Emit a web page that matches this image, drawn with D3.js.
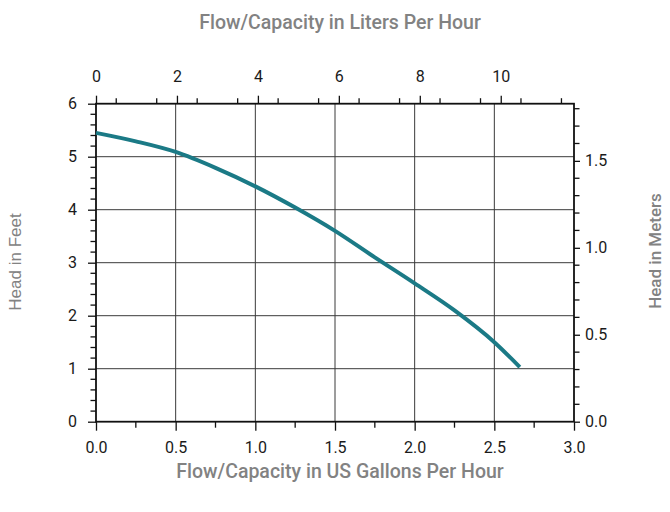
<!DOCTYPE html>
<html>
<head>
<meta charset="utf-8">
<script src="https://cdn.jsdelivr.net/npm/d3@7/dist/d3.min.js"></script>
<style>
  html, body { margin: 0; padding: 0; background: #fff; }
  svg { display: block; }
  .title { font-family: Roboto, "Noto Sans", sans-serif; font-weight: 500; fill: #828282; }
</style>
</head>
<body>
<svg id="chart" width="670" height="512"></svg>
<script>
// Pump performance curve: flow (US gal/h) against head (ft)
const flowGallons = [0, 0.25, 0.5, 0.75, 1.0, 1.25, 1.5, 1.75, 2.0, 2.25, 2.5, 2.66];
const headFeet    = [5.45, 5.29, 5.09, 4.79, 4.44, 4.04, 3.6, 3.1, 2.61, 2.1, 1.5, 1.03];

const galTicks   = [0, 0.5, 1.0, 1.5, 2.0, 2.5, 3.0];
const literTicks = [0, 2, 4, 6, 8, 10];
const feetTicks  = [0, 1, 2, 3, 4, 5, 6];
const meterTicks = [0.0, 0.5, 1.0, 1.5];

const svg = d3.select("#chart");
const plotL = 96, plotR = 574, plotT = 103.7, plotB = 421.7;

const x = d3.scaleLinear().domain([0, 3]).range([plotL, plotR]);
const xTop = d3.scaleLinear().domain([0, 11.81]).range([plotL, plotR]);
const y = d3.scaleLinear().domain([0, 6]).range([plotB, plotT]);
const yRight = d3.scaleLinear().domain([0, 6 * 0.3048]).range([plotB, plotT]);

// grid lines
const grid = svg.append("g").attr("stroke", "#3a3a3a").attr("stroke-width", 1);
grid.selectAll("line.v").data(galTicks.slice(1, -1)).join("line")
  .attr("x1", d => x(d)).attr("x2", d => x(d)).attr("y1", plotT).attr("y2", plotB);
grid.selectAll("line.h").data(feetTicks.slice(1, -1)).join("line")
  .attr("x1", plotL).attr("x2", plotR).attr("y1", d => y(d)).attr("y2", d => y(d));

function styleAxis(g) {
  g.select(".domain").remove();
  g.attr("font-family", "Roboto, 'Noto Sans', sans-serif").attr("font-size", 16);
  g.selectAll(".tick line").attr("stroke", "#111").attr("stroke-width", 1.3);
  g.selectAll(".tick text").attr("fill", "#1a1a1a");
}

// minor ticks
const minor = svg.append("g").attr("stroke", "#111").attr("stroke-width", 1.3);
minor.selectAll("line.b").data(d3.range(0.25, 3, 0.5)).join("line")
  .attr("x1", d => x(d)).attr("x2", d => x(d)).attr("y1", plotB).attr("y2", plotB + 6);
minor.selectAll("line.t").data(d3.range(0.5, 11.6, 1)).join("line")
  .attr("x1", d => xTop(d)).attr("x2", d => xTop(d)).attr("y1", plotT).attr("y2", plotT - 5.5);
minor.selectAll("line.l").data(d3.range(0, 6, 0.2).filter(d => Math.abs(d - Math.round(d)) > 0.01)).join("line")
  .attr("x1", plotL).attr("x2", plotL - 5.5).attr("y1", d => y(d)).attr("y2", d => y(d));
minor.selectAll("line.r").data(d3.range(0.1, 1.83, 0.1).filter(d => Math.abs(d * 2 - Math.round(d * 2)) > 0.01)).join("line")
  .attr("x1", plotR).attr("x2", plotR + 5.5).attr("y1", d => yRight(d)).attr("y2", d => yRight(d));

// axes
svg.append("g").attr("transform", `translate(0,${plotB})`)
  .call(d3.axisBottom(x).tickValues(galTicks).tickFormat(d3.format(".1f")).tickSize(9).tickPadding(11))
  .call(styleAxis);
svg.append("g").attr("transform", `translate(0,${plotT})`)
  .call(d3.axisTop(xTop).tickValues(literTicks).tickFormat(d3.format("d")).tickSize(8).tickPadding(14))
  .call(styleAxis);
svg.append("g").attr("transform", `translate(${plotL},0)`)
  .call(d3.axisLeft(y).tickValues(feetTicks).tickFormat(d3.format("d")).tickSize(8).tickPadding(11))
  .call(styleAxis);
svg.append("g").attr("transform", `translate(${plotR},0)`)
  .call(d3.axisRight(yRight).tickValues(meterTicks).tickFormat(d3.format(".1f")).tickSize(6).tickPadding(5))
  .call(styleAxis);

// frame
svg.append("rect").attr("x", plotL).attr("y", plotT).attr("width", plotR - plotL).attr("height", plotB - plotT)
  .attr("fill", "none").attr("stroke", "#111").attr("stroke-width", 1.8);

// performance curve
const pts = flowGallons.map((g, i) => [g, headFeet[i]]);
svg.append("path").datum(pts)
  .attr("fill", "none").attr("stroke", "#1b7a86").attr("stroke-width", 4)
  .attr("stroke-linecap", "butt")
  .attr("d", d3.line().x(d => x(d[0])).y(d => y(d[1])).curve(d3.curveMonotoneX));

// axis titles
svg.append("text").attr("class", "title").attr("x", 340).attr("y", 29)
  .attr("text-anchor", "middle").attr("font-size", 19.5).text("Flow/Capacity in Liters Per Hour");
svg.append("text").attr("class", "title").attr("x", 340).attr("y", 478)
  .attr("text-anchor", "middle").attr("font-size", 19.5).text("Flow/Capacity in US Gallons Per Hour");
svg.append("text").attr("class", "title").attr("transform", "translate(21,262) rotate(-90)")
  .attr("text-anchor", "middle").attr("font-size", 17).attr("font-weight", 400)
  .style("font-family", "'Liberation Sans', Arial, sans-serif").text("Head in Feet");
svg.append("text").attr("class", "title").attr("transform", "translate(661,251) rotate(-90)")
  .attr("text-anchor", "middle").attr("font-size", 17).text("Head in Meters");
</script>
</body>
</html>
